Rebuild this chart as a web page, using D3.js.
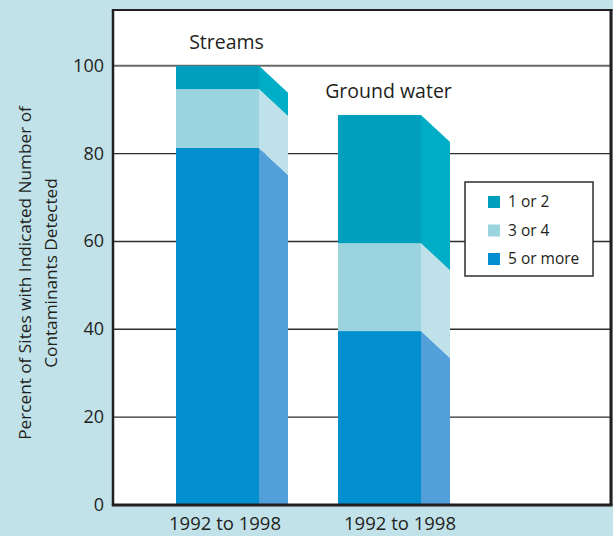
<!DOCTYPE html>
<html>
<head>
<meta charset="utf-8">
<script src="https://cdn.jsdelivr.net/npm/d3@7"></script>
<style>
  html, body { margin: 0; padding: 0; background: #c2e2ea; }
  svg { display: block; }
  text { font-family: "Open Sans", "Noto Sans", sans-serif; fill: #231f20; }
</style>
</head>
<body>
<svg id="chart" width="613" height="536"></svg>
<script>
// ---- data ----
const categories = ["Streams", "Ground water"];
const periodLabels = ["1992 to 1998", "1992 to 1998"];
const seriesNames = ["5 or more", "3 or 4", "1 or 2"];
const fiveOrMore = [81.3, 39.6];
const threeOrFour = [13.4, 20.0];
const oneOrTwo = [5.3, 29.2];
const yTicks = [0, 20, 40, 60, 80, 100];
const legendOrder = ["1 or 2", "3 or 4", "5 or more"];
const yTitleLines = ["Percent of Sites with Indicated Number of", "Contaminants Detected"];

// ---- styles ----
const frontColor = { "1 or 2": "#009fbd", "3 or 4": "#9bd3df", "5 or more": "#028fd0" };
const sideColor  = { "1 or 2": "#00adc7", "3 or 4": "#bfe2ea", "5 or more": "#539fd9" };

// ---- layout ----
const frame = { left: 113, top: 10, right: 611, bottom: 505 };
const depthX = 29, depthY = 27;
const periodLabelShift = [7.5, 20.5];

const rows = categories.map((c, i) => ({
  category: c,
  "5 or more": fiveOrMore[i],
  "3 or 4": threeOrFour[i],
  "1 or 2": oneOrTwo[i]
}));
const stacked = d3.stack().keys(seriesNames)(rows);

const svg = d3.select("#chart");

const y = d3.scaleLinear().domain([0, 100]).range([frame.bottom, 65.8]);
const x = d3.scaleBand().domain(categories).range([176, 421]).paddingInner(79 / 162).paddingOuter(0);
const bw = x.bandwidth();

// plot area background
svg.append("rect")
  .attr("x", frame.left).attr("y", frame.top)
  .attr("width", frame.right - frame.left).attr("height", frame.bottom - frame.top)
  .attr("fill", "#ffffff");

// gridlines
svg.append("g").selectAll("line")
  .data(yTicks.filter(t => t > 0))
  .join("line")
  .attr("x1", frame.left).attr("x2", frame.right)
  .attr("y1", d => y(d)).attr("y2", d => y(d))
  .attr("stroke", d => d === 100 ? "#6a6a6a" : "#2e2e2e")
  .attr("stroke-width", d => d === 100 ? 2 : 1.4);

// bars
const gBars = svg.append("g");
stacked.forEach(layer => {
  const key = layer.key;
  layer.forEach((seg, i) => {
    const cat = categories[i];
    const x0 = x(cat), x1 = x0 + bw;
    const yTop = y(seg[1]), yBot = y(seg[0]);
    // side face (sheared downward), clipped at axis
    const pts = [
      [x1, yTop],
      [x1 + depthX, Math.min(yTop + depthY, frame.bottom)],
      [x1 + depthX, Math.min(yBot + depthY, frame.bottom)],
      [x1, yBot]
    ];
    gBars.append("polygon")
      .attr("points", pts.map(p => p.join(",")).join(" "))
      .attr("fill", sideColor[key]);
    gBars.append("rect")
      .attr("x", x0).attr("y", yTop)
      .attr("width", bw).attr("height", yBot - yTop)
      .attr("fill", frontColor[key]);
  });
});

// frame lines
svg.append("line").attr("x1", frame.left).attr("x2", frame.right + 1.5)
  .attr("y1", frame.top).attr("y2", frame.top)
  .attr("stroke", "#231f20").attr("stroke-width", 2);
svg.append("line").attr("x1", frame.left).attr("x2", frame.left)
  .attr("y1", frame.top - 1).attr("y2", frame.bottom)
  .attr("stroke", "#231f20").attr("stroke-width", 2.5);
svg.append("line").attr("x1", frame.right).attr("x2", frame.right)
  .attr("y1", frame.top - 1).attr("y2", frame.bottom)
  .attr("stroke", "#231f20").attr("stroke-width", 3);
svg.append("line").attr("x1", frame.left - 1.2).attr("x2", frame.right + 1.5)
  .attr("y1", frame.bottom).attr("y2", frame.bottom)
  .attr("stroke", "#231f20").attr("stroke-width", 3);

// y tick labels
svg.append("g").selectAll("text")
  .data(yTicks)
  .join("text")
  .attr("x", 104)
  .attr("y", d => y(d))
  .attr("dy", "0.33em")
  .attr("text-anchor", "end")
  .attr("font-size", 18)
  .text(d => d);

// x labels
svg.append("g").selectAll("text")
  .data(categories)
  .join("text")
  .attr("x", (d, i) => x(d) + bw / 2 + periodLabelShift[i])
  .attr("y", 530)
  .attr("text-anchor", "middle")
  .attr("font-size", 18.5)
  .text((d, i) => periodLabels[i]);

// category labels above bars
svg.append("g").selectAll("text")
  .data(categories)
  .join("text")
  .attr("x", d => x(d) + bw / 2 + 9)
  .attr("y", (d, i) => y(fiveOrMore[i] + threeOrFour[i] + oneOrTwo[i]) - 17)
  .attr("text-anchor", "middle")
  .attr("font-size", 19.5)
  .text(d => d);

// y title
const yt = svg.append("text")
  .attr("transform", "translate(0,273) rotate(-90)")
  .attr("text-anchor", "middle")
  .attr("font-size", 17.2);
yt.selectAll("tspan")
  .data(yTitleLines)
  .join("tspan")
  .attr("x", 0)
  .attr("y", (d, i) => i === 0 ? 31 : 57)
  .text(d => d);

// legend
const lg = svg.append("g");
lg.append("rect")
  .attr("x", 465).attr("y", 182).attr("width", 128).attr("height", 94)
  .attr("fill", "#ffffff").attr("stroke", "#2e2e2e").attr("stroke-width", 1.5);
const li = lg.selectAll("g.item").data(legendOrder).join("g")
  .attr("class", "item")
  .attr("transform", (d, i) => `translate(488,${202 + i * 28.5})`);
li.append("rect").attr("x", 0).attr("y", -6).attr("width", 12).attr("height", 12)
  .attr("fill", d => frontColor[d]);
li.append("text").attr("x", 20).attr("y", 0).attr("dy", "0.35em")
  .attr("font-size", 15.5).text(d => d);
</script>
</body>
</html>
